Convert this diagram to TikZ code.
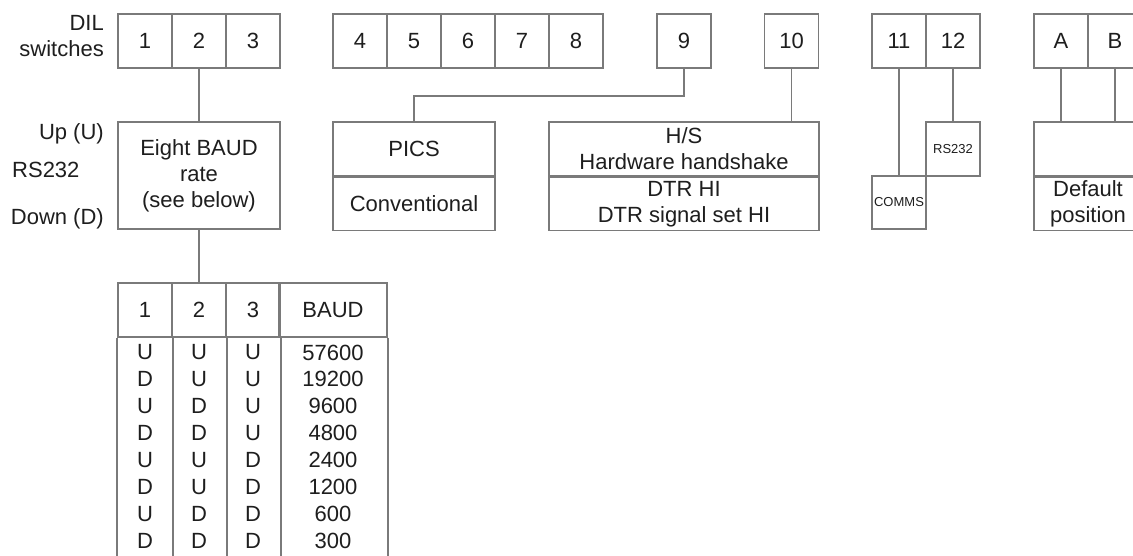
\documentclass[tikz,border=0pt]{standalone}
\usepackage{fontspec}
\setmainfont{Liberation Sans}
\usetikzlibrary{positioning}
\definecolor{dlink}{HTML}{1E1E1E}
\definecolor{dlline}{HTML}{7A7A7A}
\tikzset{
  dl text/.style={font=\fontsize{22}{26}\selectfont, text=dlink},
  dl cell/.style={draw=dlline, line width=1.6pt, minimum width=54pt, minimum height=54pt,
    inner sep=0pt, dl text},
  dl box/.style={draw=dlline, line width=1.6pt, inner sep=0pt, align=center, dl text},
  dl small/.style={draw=dlline, line width=1.6pt, minimum width=54pt, minimum height=54pt,
    inner sep=0pt, font=\fontsize{13}{15}\selectfont, text=dlink},
  dl wire/.style={draw=dlline, line width=1.6pt},
  dl label/.style={dl text, inner sep=0pt, align=right},
  dl entry/.style={dl text, inner sep=0pt}
}

\begin{document}
\begin{tikzpicture}[x=1pt, y=-1pt]
  \useasboundingbox (0,0) rectangle (1133,555);
  \clip (0,0) rectangle (1133,555);
  \fill[white] (0,0) rectangle (1133,555);
  % switch labels on the left
  \node[dl label, anchor=east] (dil) at (104,36) {DIL\\switches};
  \node[dl label, anchor=east] (up) at (104,134) {Up (U)};
  \node[dl label, anchor=west] (rs) at (12,170) {RS232};
  \node[dl label, anchor=east] (down) at (104,219) {Down (D)};
  % the switch row
  \foreach \lab/\cx in {1/145,2/199,3/253,4/360,5/414,6/468,7/522,8/576,9/684,10/791.5,
      11/899,12/953,A/1061,B/1115}
    \node[dl cell] (c\lab) at (\cx,41) {\lab};
  % what the switches set
  \node[dl box, minimum width=162pt, minimum height=107pt] (baud) at (199,175.5)
    {Eight BAUD\\rate\\(see below)};
  \node[dl box, minimum width=162pt, minimum height=54pt] (pics) at (414,149) {PICS};
  \node[dl box, minimum width=162pt, minimum height=53pt, below=0pt of pics] (conv) {Conventional};
  \node[dl box, minimum width=270pt, minimum height=54pt] (hs) at (684,149)
    {H/S\\Hardware handshake};
  \node[dl box, minimum width=270pt, minimum height=53pt, below=0pt of hs] (dtr)
    {DTR HI\\DTR signal set HI};
  \node[dl small] (rsbox) at (953,149) {RS232};
  \node[dl small, minimum height=53pt] (comms) at (899,202.5) {COMMS};
  \node[dl box, minimum width=108pt, minimum height=54pt] (dflt) at (1088,149) {};
  \node[dl box, minimum width=108pt, minimum height=53pt, below=0pt of dflt] (dpos)
    {Default\\position};
  \draw[dl wire] (c2.south) -- (baud.north);
  \draw[dl wire] (c9.south) -- ++(0,27) -| (pics.north);
  \draw[dl wire] (c10.south) -- (c10.south |- hs.north);
  \draw[dl wire] (c11.south) -- (comms.north);
  \draw[dl wire] (c12.south) -- (rsbox.north);
  \draw[dl wire] (cA.south) -- (cA.south |- dflt.north);
  \draw[dl wire] (cB.south) -- (cB.south |- dflt.north);
  % baud rate table
  \foreach \lab/\cx in {1/145,2/199,3/253}
    \node[dl cell] (t\lab) at (\cx,310) {\lab};
  \node[dl cell, minimum width=108pt] (tbaud) at (333,310) {BAUD};
  \draw[dl wire] (baud.south) -- (t2.north);
  \draw[dl wire] (t1.south west) -- ++(0,230);
  \foreach \n in {1,2,3}
    \draw[dl wire] (t\n.south east) -- ++(0,230);
  \draw[dl wire] (tbaud.south east) -- ++(0,230);
  \foreach \sa/\sb/\sc/\rate [count=\i from 0] in {U/U/U/57600,D/U/U/19200,U/D/U/9600,
      D/D/U/4800,U/U/D/2400,D/U/D/1200,U/D/D/600,D/D/D/300} {
    \node[dl entry] (r\i a) at (145,352.5+26.9*\i) {\sa};
    \node[dl entry] (r\i b) at (199,352.5+26.9*\i) {\sb};
    \node[dl entry] (r\i c) at (253,352.5+26.9*\i) {\sc};
    \node[dl entry] (r\i d) at (333,352.5+26.9*\i) {\rate};
  }
\end{tikzpicture}
\end{document}
